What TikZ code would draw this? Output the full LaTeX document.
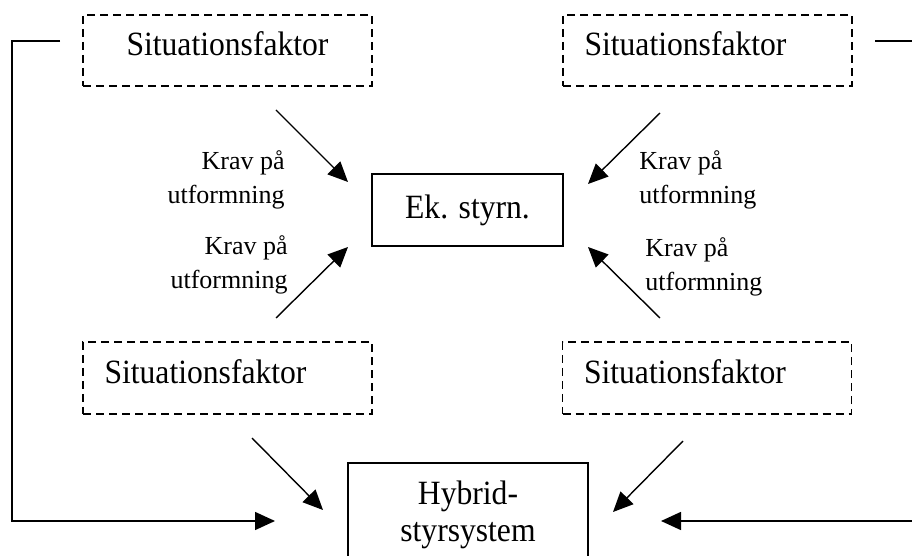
\documentclass[tikz,border=0pt]{standalone}
\usepackage{fontspec}
\setmainfont{Liberation Serif}
\newfontfamily\boxfont{Liberation Serif}[FakeStretch=0.93]
\usetikzlibrary{arrows.meta}
\begin{document}
\begin{tikzpicture}[x=0.5pt,y=-0.5pt,
  factor/.style={draw,dash pattern=on 4pt off 2.5pt,line width=0.75pt,
    minimum width=144.5pt,minimum height=35.5pt,inner sep=0pt,
    text depth=6.5pt,font=\boxfont\fontsize{17}{18.5}\selectfont},
  solidbox/.style={draw,line width=0.75pt,inner sep=0pt,
    font=\boxfont\fontsize{17}{18.5}\selectfont},
  demand/.style={inner sep=0pt,font=\fontsize{13}{17}\selectfont},
  conn/.style={line width=0.7pt,-{Triangle[length=10pt,width=9pt]}},
  loopline/.style={line width=0.75pt,-{Triangle[length=10pt,width=9pt]}}]
\useasboundingbox (0,0) rectangle (912,556);
\clip (0,0) rectangle (912,556);

% situation factors
\node[factor] (sf1) at (227.5,50.5) {Situationsfaktor};
\node[factor] (sf2) at (707.5,50.5) {Situationsfaktor\hspace*{22pt}};
\node[factor,minimum height=36pt] (sf3) at (227.5,378) {Situationsfaktor\hspace*{22pt}};
\node[factor,minimum height=36pt] (sf4) at (707,378) {Situationsfaktor\hspace*{22pt}};

% central boxes
\node[solidbox,minimum width=95.5pt,minimum height=36pt] (ek) at (467.5,210) {Ek. styrn.};
\node[solidbox,anchor=north,minimum width=120pt,minimum height=52pt,align=center]
  (hyb) at (468,462) {Hybrid-\\styrsystem};

% demand labels
\node[demand,anchor=east,align=right] (k1) at (285,180) {Krav på\\utformning};
\node[demand,anchor=east,align=right] (k2) at (288,265) {Krav på\\utformning};
\node[demand,anchor=west,align=left] (k3) at (639,180) {Krav på\\utformning};
\node[demand,anchor=west,align=left] (k4) at (645,267) {Krav på\\utformning};

% arrow end points
\coordinate (a1s) at (276,110); \coordinate (a1e) at (348,182);
\coordinate (a2s) at (276,318); \coordinate (a2e) at (348,247);
\coordinate (a3s) at (660,113); \coordinate (a3e) at (588,184);
\coordinate (a4s) at (660,318); \coordinate (a4e) at (588,247);
\coordinate (a5s) at (252,438); \coordinate (a5e) at (323,510);
\coordinate (a6s) at (683,441); \coordinate (a6e) at (613,512);

\draw[conn] (a1s) -- (a1e);
\draw[conn] (a2s) -- (a2e);
\draw[conn] (a3s) -- (a3e);
\draw[conn] (a4s) -- (a4e);
\draw[conn] (a5s) -- (a5e);
\draw[conn] (a6s) -- (a6e);

% feedback loops around the sides
\coordinate (l0) at (60,41);  \coordinate (l1) at (12,41);
\coordinate (l2) at (12,521); \coordinate (l3) at (275,521);
\coordinate (r0) at (875,41); \coordinate (r1) at (925,41);
\coordinate (r2) at (925,521); \coordinate (r3) at (661,521);
\draw[loopline] (l0) -- (l1) -- (l2) -- (l3);
\draw[loopline] (r0) -- (r1) -- (r2) -- (r3);
\end{tikzpicture}
\end{document}
